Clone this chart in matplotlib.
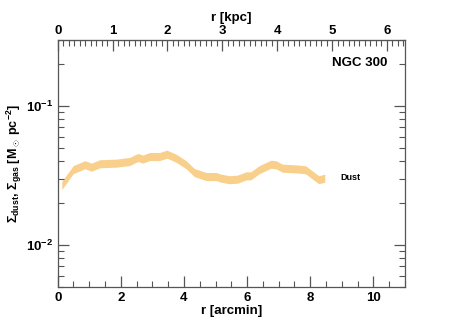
import matplotlib
matplotlib.use("Agg")
import matplotlib.pyplot as plt
from matplotlib.ticker import MultipleLocator, LogLocator, NullFormatter
import numpy as np

plt.rcParams['font.family'] = ['Liberation Sans', 'DejaVu Sans']
plt.rcParams['mathtext.fontset'] = 'custom'
plt.rcParams['mathtext.rm'] = 'Liberation Sans:bold'
plt.rcParams['mathtext.bf'] = 'Liberation Sans:bold'
plt.rcParams['mathtext.it'] = 'Liberation Sans:bold'

# Data: dust surface density profile of NGC 300
r_arcmin = [0.13, 0.49, 0.86, 1.07, 1.33, 1.86, 2.28, 2.54, 2.70, 2.91, 3.23, 3.46,
            3.75, 4.07, 4.33, 4.70, 5.02, 5.17, 5.44, 5.70, 5.96, 6.12, 6.38, 6.75,
            6.91, 7.12, 7.54, 7.85, 8.06, 8.27, 8.46]
sigma_dust = [0.0267, 0.0347, 0.0377, 0.0362, 0.0383, 0.0387, 0.0398, 0.0425, 0.0414,
              0.0432, 0.0432, 0.0449, 0.0420, 0.0377, 0.0331, 0.0310, 0.0310, 0.0302,
              0.0294, 0.0297, 0.0313, 0.0314, 0.0347, 0.0380, 0.0377, 0.0356, 0.0352,
              0.0347, 0.0319, 0.0294, 0.0302]
band_dex = 0.029  # half-width of the band in dex
kpc_per_arcmin = 0.5754

fig = plt.figure(figsize=(4.63, 3.27), dpi=100)
ax = fig.add_axes([0.1246, 0.1232, 0.7501, 0.756])
sd = np.array(sigma_dust)
ax.fill_between(r_arcmin, sd / 10**band_dex, sd * 10**band_dex, color='#F8D08C', lw=0)
ax.set_yscale('log')
ax.set_xlim(0, 11)
ax.set_ylim(0.005, 0.3)

edge = '#555555'
for s in ax.spines.values():
    s.set_color(edge)
    s.set_linewidth(0.9)

ax.xaxis.set_major_locator(MultipleLocator(2))
ax.xaxis.set_minor_locator(MultipleLocator(0.5))
ax.yaxis.set_major_locator(LogLocator(base=10, numticks=10))
ax.yaxis.set_minor_locator(LogLocator(base=10, subs=np.arange(2, 10), numticks=20))
ax.yaxis.set_minor_formatter(NullFormatter())
ax.tick_params(which='both', direction='in', colors=edge, labelcolor='black', right=True, top=False)
ax.tick_params(which='major', length=8, width=0.9, labelsize=9.5)
ax.tick_params(which='minor', length=4, width=0.8)
for lab in ax.get_xticklabels() + ax.get_yticklabels():
    lab.set_fontweight('bold')

ax.set_xlabel('r [arcmin]', fontsize=9.5, fontweight='bold', labelpad=1)
ax.set_ylabel(r'$\Sigma_{\rm dust}$, $\Sigma_{\rm gas}$ [M$_\odot$ pc$^{-2}$]', fontsize=9, fontweight='bold')
ax.yaxis.set_label_coords(-0.098, 0.5)

sec = ax.secondary_xaxis('top', functions=(lambda x: x * kpc_per_arcmin, lambda k: k / kpc_per_arcmin))
sec.xaxis.set_major_locator(MultipleLocator(1))
sec.xaxis.set_minor_locator(MultipleLocator(0.1))
sec.tick_params(which='both', direction='in', colors=edge, labelcolor='black')
sec.tick_params(which='major', length=8, width=0.9, labelsize=9.5, pad=2)
sec.tick_params(which='minor', length=4, width=0.8)
sec.spines['top'].set_color(edge)
for lab in sec.get_xticklabels():
    lab.set_fontweight('bold')
sec.set_xlabel('r [kpc]', fontsize=9.5, fontweight='bold', labelpad=3)

ax.text(0.95, 0.93, 'NGC 300', transform=ax.transAxes, ha='right', va='top', fontsize=9.5, fontweight='bold')
ax.text(8.95, 0.0305, 'Dust', ha='left', va='center', fontsize=6.5, fontweight='bold')

fig.savefig('out.png', dpi=100)
